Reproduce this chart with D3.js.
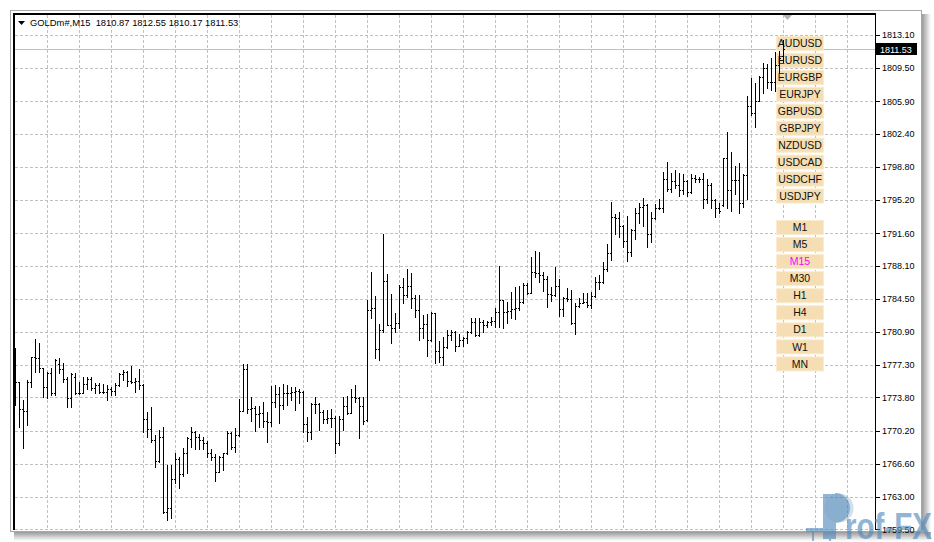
<!DOCTYPE html>
<html><head><meta charset="utf-8">
<script src="https://cdn.jsdelivr.net/npm/d3@7"></script>
<style>html,body{margin:0;padding:0;background:#fff;}svg{display:block;}</style>
</head><body>
<script>
const symbol = "GOLDm#,M15";
const lastOHLC = ["1810.87","1812.55","1810.17","1811.53"];
const currentPrice = 1811.53;
const priceTicks = [1813.10,1809.50,1805.90,1802.40,1798.80,1795.20,1791.60,1788.10,1784.50,1780.90,1777.30,1773.80,1770.20,1766.60,1763.00,1759.50];
const symbols = ["AUDUSD","EURUSD","EURGBP","EURJPY","GBPUSD","GBPJPY","NZDUSD","USDCAD","USDCHF","USDJPY"];
const timeframes = ["M1","M5","M15","M30","H1","H4","D1","W1","MN"];
const activeTimeframe = "M15";

const openP = [1777.50,1775.44,1772.52,1772.37,1775.52,1778.16,1778.08,1776.96,1774.97,1776.49,1774.32,1777.43,1776.85,1775.77,1773.71,1776.06,1774.32,1774.32,1775.26,1775.77,1774.79,1775.16,1774.43,1774.43,1774.69,1774.54,1775.16,1776.35,1776.60,1775.63,1775.52,1775.63,1775.16,1771.43,1770.35,1769.19,1766.95,1769.48,1761.42,1761.78,1764.96,1767.13,1765.50,1767.74,1769.26,1770.09,1769.48,1769.19,1768.90,1767.74,1767.31,1765.76,1767.38,1767.74,1769.98,1768.39,1769.73,1772.37,1776.85,1772.51,1772.62,1772.01,1772.08,1771.29,1771.18,1773.35,1774.18,1772.98,1774.25,1774.32,1774.43,1774.54,1774.43,1770.92,1770.09,1773.09,1773.09,1772.26,1771.43,1771.54,1771.54,1768.83,1771.43,1772.88,1772.15,1773.82,1773.71,1772.88,1771.36,1783.28,1783.53,1779.05,1781.11,1786.43,1781.66,1781.37,1781.84,1785.81,1784.91,1785.92,1784.55,1783.28,1781.37,1781.73,1780.03,1782.92,1778.84,1778.22,1779.31,1780.57,1780.86,1779.41,1780.03,1780.21,1780.86,1782.02,1780.57,1782.02,1781.65,1782.01,1782.12,1783.10,1784.36,1783.10,1783.21,1783.35,1783.46,1784.18,1785.99,1785.16,1787.44,1787.26,1787.08,1786.60,1785.02,1784.91,1785.88,1783.35,1784.55,1784.44,1781.91,1783.71,1784.07,1784.18,1783.82,1784.80,1786.35,1786.35,1787.73,1789.43,1793.40,1793.29,1792.39,1790.76,1789.53,1791.96,1793.76,1794.49,1794.67,1791.49,1793.29,1794.38,1794.38,1797.49,1796.40,1797.27,1796.84,1796.29,1797.27,1796.04,1797.56,1797.49,1797.49,1795.31,1796.83,1795.21,1794.30,1794.66,1799.73,1796.29,1797.37,1797.37,1794.84,1797.92,1805.44,1804.60,1805.94,1808.58,1809.56,1807.97,1807.97,1809.85,1810.87];
const highP = [1779.13,1775.52,1773.53,1775.70,1778.23,1780.11,1779.75,1777.00,1776.60,1776.96,1777.94,1778.05,1777.50,1776.06,1776.42,1776.49,1775.52,1776.06,1776.06,1776.06,1775.34,1775.41,1775.26,1775.16,1774.97,1775.34,1776.42,1776.78,1776.71,1777.22,1775.88,1776.85,1775.20,1772.26,1772.81,1769.73,1770.27,1770.56,1766.48,1766.48,1767.74,1767.31,1768.29,1769.48,1770.56,1770.20,1769.84,1769.48,1769.12,1768.25,1767.67,1767.45,1767.82,1770.20,1770.05,1770.45,1773.60,1777.43,1777.43,1773.89,1772.88,1772.88,1773.35,1772.26,1775.05,1775.15,1774.90,1775.26,1775.15,1774.97,1774.90,1774.68,1774.50,1771.72,1773.17,1773.89,1773.20,1772.44,1772.44,1772.51,1771.79,1771.79,1773.89,1773.96,1774.68,1775.15,1773.89,1773.89,1784.37,1787.37,1784.84,1781.73,1791.52,1787.15,1784.98,1782.92,1785.99,1786.79,1787.73,1787.26,1784.91,1784.91,1782.74,1782.81,1783.03,1782.95,1779.92,1780.39,1781.11,1781.11,1781.00,1780.64,1780.39,1781.00,1782.38,1782.45,1782.45,1782.20,1782.12,1782.48,1783.46,1788.05,1784.40,1784.18,1785.27,1785.81,1785.88,1786.24,1786.17,1789.06,1789.71,1789.61,1787.44,1786.97,1785.81,1787.98,1786.60,1784.73,1785.63,1785.45,1784.00,1784.55,1785.09,1785.09,1785.27,1786.89,1787.08,1788.52,1790.40,1795.03,1793.66,1793.87,1792.50,1793.51,1792.07,1794.38,1794.85,1795.46,1794.74,1793.87,1794.74,1795.32,1798.28,1799.29,1798.10,1798.46,1798.10,1797.99,1797.35,1797.99,1797.92,1797.74,1798.10,1797.48,1797.01,1795.31,1794.84,1799.80,1802.62,1800.38,1798.93,1799.18,1797.99,1806.52,1808.40,1807.86,1808.69,1810.03,1809.92,1810.57,1811.29,1811.37,1812.55];
const lowP = [1772.99,1770.64,1768.29,1770.82,1774.90,1776.60,1776.60,1773.89,1773.71,1774.07,1774.07,1776.42,1775.52,1772.73,1772.73,1774.18,1774.18,1774.25,1774.69,1774.61,1774.25,1774.25,1774.25,1773.53,1774.07,1774.07,1775.05,1775.70,1775.05,1775.34,1774.43,1774.69,1770.09,1769.55,1769.01,1766.30,1766.84,1761.31,1760.51,1760.70,1764.49,1763.95,1765.29,1765.58,1768.47,1768.18,1768.18,1768.18,1767.38,1767.02,1764.78,1765.70,1765.94,1767.70,1768.18,1767.92,1769.62,1772.30,1772.08,1771.29,1770.20,1770.56,1770.56,1769.01,1770.71,1772.80,1771.00,1772.51,1772.98,1773.53,1772.44,1773.17,1770.09,1769.12,1769.26,1772.15,1770.27,1771.07,1771.00,1770.63,1767.82,1768.65,1770.27,1772.01,1772.08,1773.35,1769.37,1770.92,1771.25,1782.38,1778.11,1777.86,1780.93,1781.60,1779.67,1780.93,1781.29,1784.00,1784.73,1783.53,1782.56,1780.03,1780.21,1778.33,1779.95,1777.50,1777.68,1777.32,1779.20,1780.03,1778.84,1779.35,1779.41,1779.67,1780.80,1780.50,1780.50,1780.93,1781.40,1781.65,1781.47,1781.47,1781.29,1781.83,1782.38,1782.27,1783.28,1784.07,1785.01,1785.09,1786.89,1786.35,1785.38,1783.64,1784.29,1784.80,1782.63,1782.63,1784.29,1781.76,1780.68,1783.57,1784.00,1783.64,1783.46,1784.73,1785.52,1786.17,1787.51,1788.70,1791.49,1791.23,1790.15,1788.59,1789.17,1790.98,1792.68,1792.43,1790.15,1790.69,1793.20,1794.23,1793.94,1796.19,1796.11,1796.55,1795.68,1795.82,1795.68,1795.93,1797.13,1797.13,1794.31,1794.84,1794.30,1793.40,1793.76,1794.59,1794.38,1794.02,1795.82,1793.76,1794.48,1795.31,1804.42,1803.16,1805.90,1806.78,1807.39,1807.14,1807.03,1809.13,1810.17];
const closeP = [1775.44,1772.52,1772.37,1775.52,1778.16,1778.08,1776.96,1774.97,1776.49,1774.32,1777.87,1776.85,1775.77,1773.71,1776.35,1774.32,1774.32,1775.26,1775.77,1774.79,1775.16,1774.43,1774.43,1774.69,1774.54,1775.16,1776.35,1776.60,1775.63,1775.52,1775.63,1775.16,1771.43,1770.35,1769.19,1766.95,1769.48,1761.42,1761.78,1764.96,1767.13,1765.50,1767.74,1769.37,1770.09,1769.48,1769.19,1768.90,1767.74,1767.31,1765.76,1767.38,1767.74,1769.98,1768.39,1769.73,1772.37,1776.85,1772.51,1772.62,1772.01,1772.08,1771.29,1771.18,1773.35,1774.18,1772.98,1774.25,1774.32,1774.43,1774.54,1774.43,1770.92,1770.09,1773.09,1773.09,1772.26,1771.43,1771.54,1771.54,1768.83,1771.43,1772.88,1772.15,1773.82,1773.71,1772.88,1771.29,1783.28,1783.46,1779.05,1781.11,1786.43,1781.66,1781.37,1781.84,1785.81,1784.91,1785.92,1784.55,1783.28,1781.37,1781.73,1780.03,1782.92,1778.84,1778.22,1779.31,1780.57,1780.86,1779.41,1780.03,1780.21,1780.86,1782.02,1780.57,1782.02,1781.66,1782.01,1782.12,1783.10,1784.36,1783.10,1783.21,1783.35,1783.46,1784.18,1785.99,1785.16,1787.44,1787.26,1787.08,1786.60,1785.02,1784.91,1785.88,1783.35,1784.55,1784.44,1781.91,1783.71,1784.07,1784.18,1783.82,1784.80,1786.35,1786.35,1787.69,1789.43,1793.40,1793.29,1792.39,1790.76,1789.53,1791.96,1793.76,1794.49,1794.67,1791.49,1793.29,1794.38,1794.38,1797.49,1796.40,1797.27,1796.84,1796.29,1797.27,1796.04,1797.56,1797.49,1797.49,1795.32,1796.83,1795.21,1794.30,1794.01,1799.73,1796.29,1797.37,1797.37,1794.84,1797.92,1805.44,1804.60,1805.94,1808.58,1809.56,1807.97,1807.97,1809.85,1810.57,1811.53];

const W = 934, H = 542;
const plot = {left: 15, top: 15, right: 875, bottom: 530};
const svg = d3.select("body").append("svg").attr("width", W).attr("height", H)
  .style("font-family", "'Liberation Sans', Arial, sans-serif");

const bars = openP.map((o, i) => ({i, o, h: highP[i], l: lowP[i], c: closeP[i]}));
const x = d3.scaleLinear().domain([0, bars.length - 1]).range([15.3, 783.3]);
const y = d3.scaleLinear().domain([1763.0, 1813.1]).range([497, 35]);

const defs = svg.append("defs");
defs.append("clipPath").attr("id", "plotclip").append("rect")
  .attr("x", plot.left).attr("y", plot.top).attr("width", plot.right - plot.left).attr("height", plot.bottom - plot.top);
const gR = defs.append("linearGradient").attr("id", "shR").attr("x1", 0).attr("x2", 1).attr("y1", 0).attr("y2", 0);
gR.append("stop").attr("offset", 0).attr("stop-color", "#9a9a9a");
gR.append("stop").attr("offset", 1).attr("stop-color", "#ffffff");
const gB = defs.append("linearGradient").attr("id", "shB").attr("x1", 0).attr("x2", 0).attr("y1", 0).attr("y2", 1);
gB.append("stop").attr("offset", 0).attr("stop-color", "#9a9a9a");
gB.append("stop").attr("offset", 1).attr("stop-color", "#ffffff");

svg.append("rect").attr("x", 922).attr("y", 14).attr("width", 9).attr("height", 526).attr("fill", "url(#shR)");
svg.append("rect").attr("x", 14).attr("y", 532).attr("width", 917).attr("height", 9).attr("fill", "url(#shB)");
svg.append("rect").attr("x", 10.5).attr("y", 10.5).attr("width", 911).attr("height", 521)
  .attr("fill", "#fff").attr("stroke", "#a8a8a8");

const plotG = svg.append("g").attr("clip-path", "url(#plotclip)");

const gridIdx = d3.range(8, 212, 8);
plotG.append("g").selectAll("line").data(gridIdx).join("line")
  .attr("x1", d => Math.round(x(d)) + 0.5).attr("x2", d => Math.round(x(d)) + 0.5)
  .attr("y1", plot.top).attr("y2", plot.bottom)
  .attr("stroke", "#c0c0c0").attr("stroke-dasharray", "3,2");
plotG.append("g").selectAll("line").data(priceTicks).join("line")
  .attr("x1", plot.left).attr("x2", plot.right)
  .attr("y1", d => Math.round(y(d)) + 0.5).attr("y2", d => Math.round(y(d)) + 0.5)
  .attr("stroke", "#c0c0c0").attr("stroke-dasharray", "3,2");

plotG.append("line").attr("x1", plot.left).attr("x2", plot.right)
  .attr("y1", Math.round(y(currentPrice)) + 0.5).attr("y2", Math.round(y(currentPrice)) + 0.5)
  .attr("stroke", "#c0c0c0");

function buttons(list, y0, step) {
  const g = plotG.append("g");
  const b = g.selectAll("g").data(list).join("g")
    .attr("transform", (d, i) => `translate(776,${y0 + i * step})`);
  b.append("rect").attr("x", 0.5).attr("y", 0.5).attr("width", 47).attr("height", 14)
    .attr("fill", "#f5deb3").attr("stroke", "#fbeccd");
  b.append("text").attr("x", 24).attr("y", 11.2).attr("text-anchor", "middle")
    .attr("font-size", "10.5px")
    .attr("fill", d => d === activeTimeframe ? "#ff00ff" : "#111")
    .text(d => d);
}
buttons(symbols, 36, 16.95);
buttons(timeframes, 220, 17.05);

const bg = plotG.append("g").attr("fill", "#000");
bars.forEach(d => {
  const px = Math.round(x(d.i));
  const top = Math.round(y(Math.max(d.h, d.o, d.c)));
  const bot = Math.round(y(Math.min(d.l, d.o, d.c)));
  bg.append("rect").attr("x", px).attr("y", top).attr("width", 1).attr("height", Math.max(1, bot - top + 1));
  bg.append("rect").attr("x", px - 1).attr("y", Math.round(y(d.o))).attr("width", 1).attr("height", 1);
  bg.append("rect").attr("x", px + 1).attr("y", Math.round(y(d.c))).attr("width", 1).attr("height", 1);
});

svg.append("path").attr("d", "M783,15 L792,15 L787.5,20 Z").attr("fill", "#b4b4b4");

svg.append("rect").attr("x", 13).attr("y", 13).attr("width", 2).attr("height", plot.bottom - 13).attr("fill", "#000");
svg.append("rect").attr("x", 13).attr("y", 13).attr("width", plot.right - 13 + 1).attr("height", 2).attr("fill", "#000");
svg.append("rect").attr("x", plot.right).attr("y", 13).attr("width", 1).attr("height", plot.bottom - 13).attr("fill", "#000");

const ax = svg.append("g");
ax.selectAll("line").data(priceTicks).join("line")
  .attr("x1", plot.right).attr("x2", plot.right + 5)
  .attr("y1", d => Math.round(y(d)) + 0.5).attr("y2", d => Math.round(y(d)) + 0.5)
  .attr("stroke", "#000");
ax.selectAll("text").data(priceTicks).join("text")
  .attr("x", 882).attr("y", d => y(d) + 3.3)
  .attr("font-size", "9px").attr("fill", "#000")
  .text(d => d.toFixed(2));

const cy = y(currentPrice);
svg.append("rect").attr("x", 876).attr("y", Math.round(cy) - 6).attr("width", 41).attr("height", 12).attr("fill", "#000");
svg.append("text").attr("x", 880).attr("y", cy + 3.3).attr("font-size", "9px").attr("fill", "#fff")
  .text(currentPrice.toFixed(2));

svg.append("path").attr("d", "M18,21 L25,21 L21.5,25 Z").attr("fill", "#000");
svg.append("text").attr("x", 30).attr("y", 25.5).attr("font-size", "9.4px").attr("fill", "#000")
  .attr("xml:space", "preserve")
  .text(symbol + "  " + lastOHLC.join(" "));

const wm = svg.append("g").attr("fill", "#4f88bb").attr("opacity", 0.62);
wm.append("rect").attr("x", 806).attr("y", 528).attr("width", 17).attr("height", 4);
wm.append("rect").attr("x", 812).attr("y", 532).attr("width", 2).attr("height", 9);
wm.append("rect").attr("x", 829).attr("y", 532).attr("width", 2).attr("height", 9);
wm.append("rect").attr("x", 823).attr("y", 494).attr("width", 13).attr("height", 45);
wm.append("path").attr("d", "M835,493 A15,15 0 1 1 835,523 Z");
wm.append("circle").attr("cx", 839).attr("cy", 508).attr("r", 14.5).attr("fill", "#2f6c9f").attr("opacity", 0.35);
wm.append("text").attr("x", 845).attr("y", 539).attr("font-size", "36px").attr("font-weight", "bold")
  .attr("textLength", 87).attr("lengthAdjust", "spacingAndGlyphs").text("rof-FX");
</script>
</body></html>
